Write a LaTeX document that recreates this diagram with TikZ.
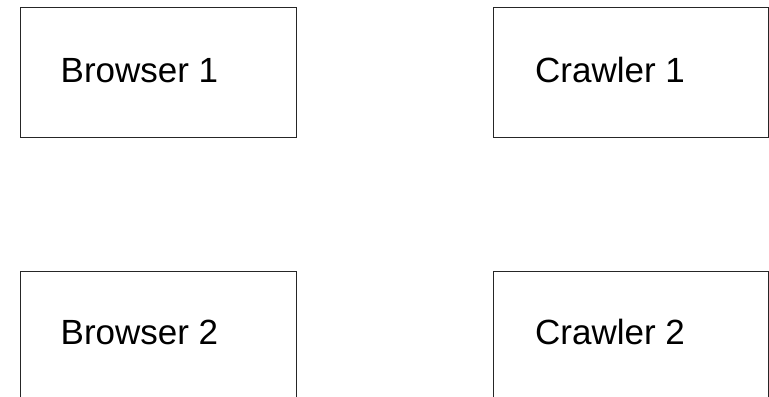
\documentclass[tikz,border=0pt]{standalone}
\usepackage{fontspec}
\setmainfont{Liberation Sans}
\begin{document}
\begin{tikzpicture}[x=1bp,y=1bp,
  box/.style={draw=black!85, line width=1bp, rectangle, minimum width=275.5bp, minimum height=129.5bp, anchor=north west, inner sep=0pt, outer sep=0pt},
  lbl/.style={anchor=base west, inner sep=0pt, font=\fontsize{35bp}{42bp}\selectfont}]
\useasboundingbox (0,0) rectangle (769,396);
\clip (0,0) rectangle (769,396);
\node[box] (b1) at (20.5,388) {};
\node[box] (c1) at (493,388) {};
\node[box] (b2) at (20.5,125) {};
\node[box] (c2) at (493,125) {};
\node[lbl] (tb1) at (60.5,314) {Browser 1};
\node[lbl] (tc1) at (535,314) {Crawler 1};
\node[lbl] (tb2) at (60.5,52) {Browser 2};
\node[lbl] (tc2) at (535,52) {Crawler 2};
\end{tikzpicture}
\end{document}
